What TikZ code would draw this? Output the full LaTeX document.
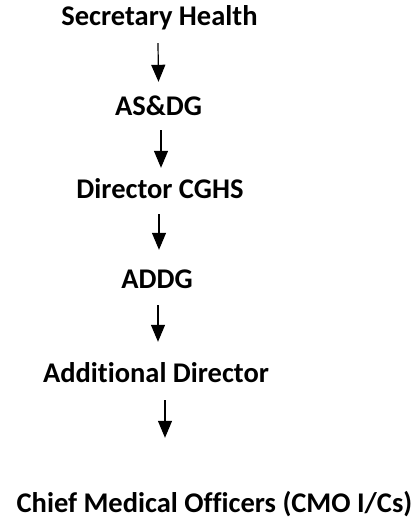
\documentclass[tikz,border=0pt]{standalone}
\usepackage{fontspec}
\setmainfont{Carlito}[Ligatures=NoCommon]
\usetikzlibrary{arrows.meta}
\begin{document}
\begin{tikzpicture}[x=1pt,y=-1pt,
  every node/.style={font=\bfseries\fontsize{28.5}{34}\selectfont, inner sep=0pt, text height=18pt, text depth=5pt},
  down/.style={-{Triangle[width=14pt,length=17pt]}, line width=1.2pt}]
\useasboundingbox (0,0) rectangle (420,520);
\node (rank1) at (159.5,18.5) {Secretary Health};
\node (rank2) at (158.5,108.5) {AS\&DG};
\node (rank3) at (160,191.5) {Director CGHS};
\node (rank4) at (157,281.5) {ADDG};
\node (rank5) at (156,375.5) {Additional Director};
\node (rank6) at (214.5,505.5) {Chief Medical Officers (CMO I/Cs)};
\draw[down] ([xshift=-1.5pt,yshift=-13pt]rank1.south) -- ([yshift=15pt]rank2.north);
\draw[down] ([xshift=2.5pt,yshift=-10pt]rank2.south) -- ([xshift=1pt,yshift=12pt]rank3.north);
\draw[down] ([xshift=-1pt,yshift=-11pt]rank3.south) -- ([xshift=2pt,yshift=20pt]rank4.north);
\draw[down] ([xshift=1pt,yshift=-12pt]rank4.south) -- ([xshift=2pt,yshift=22pt]rank5.north);
\draw[down] ([xshift=9pt,yshift=-13pt]rank5.south) -- ([xshift=-49.5pt,yshift=56pt]rank6.north);
\end{tikzpicture}
\end{document}
